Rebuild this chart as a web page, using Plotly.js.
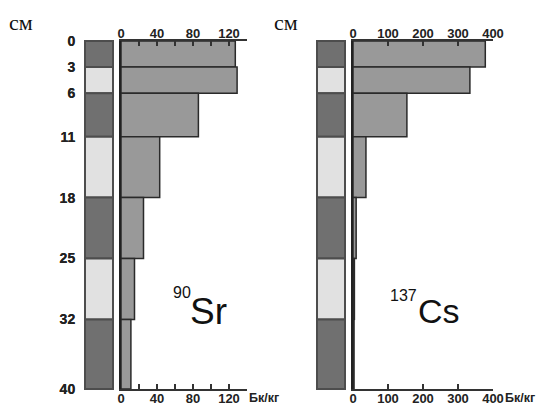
<!DOCTYPE html>
<html>
<head>
<meta charset="utf-8">
<script src="https://cdn.plot.ly/plotly-3.0.1.min.js"></script>
<style>html,body{margin:0;padding:0;background:#fff;}#chart{width:545px;height:405px;}</style>
</head>
<body>
<div id="chart"></div>
<script>
// ---- data ----
const depthBounds = [0, 3, 6, 11, 18, 25, 32, 40];          // cm
const depthLabels = ['0', '3', '6', '11', '18', '25', '32', '40'];
const strataType = ['dark', 'light', 'dark', 'light', 'dark', 'light', 'dark'];
const sr90 = [127, 129, 86, 43, 25, 15, 11];                 // Bq/kg
const cs137 = [378, 334, 154, 37, 9, 4, 3];                  // Bq/kg
const srTicks = [0, 40, 80, 120];
const csTicks = [0, 100, 200, 300, 400];

// ---- derived geometry from data ----
const mids = [], thick = [];
for (let i = 0; i < depthBounds.length - 1; i++) {
  mids.push((depthBounds[i] + depthBounds[i + 1]) / 2);
  thick.push(depthBounds[i + 1] - depthBounds[i]);
}
const W = 545, H = 405;
const px = v => v / W, py = v => 1 - v / H;
const stratColors = strataType.map(t => t === 'dark' ? '#707070' : '#e1e1e1');
const ones = mids.map(() => 1);

const FONT = 'Liberation Sans, Arial, sans-serif';
const tickFont = {family: FONT, size: 13, color: '#222', weight: 'bold'};
const yTickFont = {family: FONT, size: 14, color: '#222', weight: 'bold'};

// y mapping: 0 -> 41px, 40 -> 389px
const yTop = 41, yBot = 389, pxPerCm = (yBot - yTop) / 40;
const pad = 0.4;
const stratDomain = [py(yBot + pad * pxPerCm), py(yTop - pad * pxPerCm)];
const barDomain = [py(yBot), py(yTop)];

function stratX(x0, x1) {
  const w = x1 - x0; return [px(x0 - 0.1 * w), px(x1 + 0.1 * w)];
}

const barStyle = {color: '#999999', line: {color: '#2a2a2a', width: 1.5}};
const ghost = {color: 'rgba(0,0,0,0)', line: {width: 0}};
const traces = [
  {type: 'bar', orientation: 'h', x: ones, base: 0, y: mids, width: thick,
   xaxis: 'x', yaxis: 'y', marker: {color: stratColors, line: {color: '#4d4d4d', width: 2}},
   hoverinfo: 'skip', showlegend: false},
  {type: 'bar', orientation: 'h', x: sr90, base: 0, y: mids, width: thick,
   xaxis: 'x2', yaxis: 'y2', marker: barStyle, showlegend: false},
  {type: 'bar', orientation: 'h', x: sr90, base: 0, y: mids, width: thick,
   xaxis: 'x5', yaxis: 'y2', marker: ghost, hoverinfo: 'skip', showlegend: false},
  {type: 'bar', orientation: 'h', x: ones, base: 0, y: mids, width: thick,
   xaxis: 'x3', yaxis: 'y3', marker: {color: stratColors, line: {color: '#4d4d4d', width: 2}},
   hoverinfo: 'skip', showlegend: false},
  {type: 'bar', orientation: 'h', x: cs137, base: 0, y: mids, width: thick,
   xaxis: 'x4', yaxis: 'y4', marker: barStyle, showlegend: false},
  {type: 'bar', orientation: 'h', x: cs137, base: 0, y: mids, width: thick,
   xaxis: 'x6', yaxis: 'y4', marker: ghost, hoverinfo: 'skip', showlegend: false}
];

function stratAxes(dom) {
  return {
    x: {domain: dom, range: [-0.1, 1.1], visible: false, fixedrange: true},
    y: {domain: stratDomain, range: [40 + pad, -pad], showgrid: false, zeroline: false, showline: false,
        ticks: '', tickvals: depthBounds, ticktext: depthLabels, tickfont: yTickFont, ticklabelstandoff: 6}
  };
}
function valAxis(dom, rng, ticks, minorDt, side, anchor, overlay) {
  const a = {domain: dom, range: rng, side: side, anchor: anchor, tickvals: ticks,
    ticks: 'inside', ticklen: 5, tickwidth: 1.5, tickcolor: '#333', ticklabelstandoff: -4,
    showline: true, linecolor: '#333', linewidth: 2, showgrid: false, zeroline: false,
    tickfont: tickFont, minor: {dtick: minorDt, tick0: 0, ticks: 'inside', ticklen: 5, tickwidth: 1.5, tickcolor: '#333', showgrid: false}};
  if (overlay) a.overlaying = overlay;
  return a;
}
const sA = stratAxes(stratX(85, 113));
const sB = stratAxes(stratX(317, 345));
const srDom = [px(121), px(247)], csDom = [px(353), px(493)];

const layout = {
  width: W, height: H, margin: {l: 0, r: 0, t: 0, b: 0},
  paper_bgcolor: '#fff', plot_bgcolor: 'rgba(0,0,0,0)', bargap: 0, barmode: 'overlay',
  xaxis: sA.x, yaxis: sA.y,
  xaxis2: valAxis(srDom, [0, 140], srTicks, 20, 'bottom', 'y2'),
  yaxis2: {domain: barDomain, range: [40, 0], anchor: 'x2', showticklabels: false, ticks: '',
           showline: true, linecolor: '#222', linewidth: 2, showgrid: false, zeroline: false},
  xaxis3: sB.x, yaxis3: sB.y,
  xaxis4: valAxis(csDom, [0, 400], csTicks, 100, 'bottom', 'y4'),
  yaxis4: {domain: barDomain, range: [40, 0], anchor: 'x4', showticklabels: false, ticks: '',
           showline: true, linecolor: '#222', linewidth: 2, showgrid: false, zeroline: false},
  xaxis5: valAxis(srDom, [0, 140], srTicks, 20, 'top', 'y2', 'x2'),
  xaxis6: valAxis(csDom, [0, 400], csTicks, 100, 'top', 'y4', 'x4'),
  annotations: [
    {text: 'см', x: px(7), y: py(22), xref: 'paper', yref: 'paper', xanchor: 'left', yanchor: 'middle',
     showarrow: false, font: {family: 'Liberation Serif, Times New Roman, serif', size: 22, color: '#111'}},
    {text: 'см', x: px(272), y: py(22), xref: 'paper', yref: 'paper', xanchor: 'left', yanchor: 'middle',
     showarrow: false, font: {family: 'Liberation Serif, Times New Roman, serif', size: 22, color: '#111'}},
    {text: 'Бк/кг', x: px(247), y: py(398), xref: 'paper', yref: 'paper', xanchor: 'left', yanchor: 'middle',
     showarrow: false, font: {family: FONT, size: 12.5, color: '#222', weight: 'bold'}},
    {text: 'Бк/кг', x: px(503), y: py(398), xref: 'paper', yref: 'paper', xanchor: 'left', yanchor: 'middle',
     showarrow: false, font: {family: FONT, size: 12.5, color: '#222', weight: 'bold'}},
    {text: 'Sr', x: px(188), y: py(311), xref: 'paper', yref: 'paper', xanchor: 'left', yanchor: 'middle',
     showarrow: false, font: {family: FONT, size: 37, color: '#111'}},
    {text: '90', x: px(193), y: py(292), xref: 'paper', yref: 'paper', xanchor: 'right', yanchor: 'middle',
     showarrow: false, font: {family: FONT, size: 16, color: '#111'}},
    {text: 'Cs', x: px(416), y: py(311), xref: 'paper', yref: 'paper', xanchor: 'left', yanchor: 'middle',
     showarrow: false, font: {family: FONT, size: 34, color: '#111'}},
    {text: '137', x: px(419), y: py(295), xref: 'paper', yref: 'paper', xanchor: 'right', yanchor: 'middle',
     showarrow: false, font: {family: FONT, size: 16, color: '#111'}}
  ]
};

Plotly.newPlot('chart', traces, layout, {displayModeBar: false, staticPlot: true});
</script>
</body>
</html>
